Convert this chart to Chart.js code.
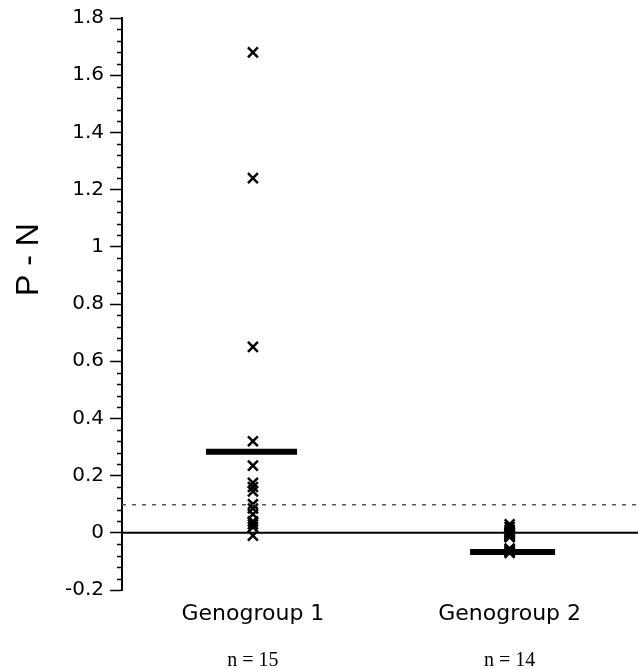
<!doctype html>
<html>
<head>
    <title>P - N by genogroup</title>
    <script src="https://cdn.jsdelivr.net/npm/chart.js@4.4.1/dist/chart.umd.min.js"></script>
    <style>
        body { margin: 0; background: #fff; }
        #wrap { width: 638px; height: 669px; }
    </style>
</head>
<body>
    <div id="wrap"><canvas id="myChart" width="638" height="669"></canvas></div>
    <script>
        // groups and their sample sizes
        var groupNames = ['Genogroup 1', 'Genogroup 2'];
        var groupSizes = ['n = 15', 'n = 14'];
        var yTitle = 'P - N';

        // P - N values
        var group1 = [1.68, 1.24, 0.65, 0.32, 0.235, 0.175, 0.16, 0.145, 0.10, 0.085, 0.065, 0.04, 0.03, 0.02, -0.01];
        var group2 = [0.03, 0.02, 0.01, 0.005, 0, -0.003, -0.006, -0.01, -0.012, -0.015, -0.055, -0.06, -0.065, -0.07];

        // horizontal bar per group: value, left end, right end (x units)
        var barValues = [0.283, -0.067];
        var barLeft = [0.817, 1.846];
        var barRight = [1.172, 2.177];

        var cutoff = 0.098;
        var baseline = 0;

        var xMin = 0.49, xMax = 2.5;

        function pts(vals, x) {
            return vals.map(function(v) { return {x: x, y: v}; });
        }

        var datasets = [];
        datasets.push({
            type: 'line', data: [{x: xMin, y: cutoff}, {x: xMax, y: cutoff}],
            borderColor: '#555', borderWidth: 1.5, borderDash: [4, 6], pointRadius: 0
        });
        datasets.push({
            type: 'line', data: [{x: xMin, y: baseline}, {x: xMax, y: baseline}],
            borderColor: '#000', borderWidth: 2, pointRadius: 0
        });
        [group1, group2].forEach(function(g, i) {
            datasets.push({
                type: 'scatter', data: pts(g, i + 1),
                pointStyle: 'crossRot', pointRadius: 7, borderColor: '#000', borderWidth: 2.5
            });
            datasets.push({
                type: 'line', data: [{x: barLeft[i], y: barValues[i]}, {x: barRight[i], y: barValues[i]}],
                borderColor: '#000', borderWidth: 6, pointRadius: 0
            });
        });

        var minorTicks = {
            id: 'minorTicks',
            afterDraw: function(chart) {
                var y = chart.scales.y;
                var ctx = chart.ctx;
                var x0 = chart.chartArea.left;
                ctx.save();
                ctx.strokeStyle = '#000';
                ctx.lineWidth = 1.5;
                for (var k = 0; k <= 50; k++) {
                    if (k % 5 === 0) continue;
                    var py = Math.round(y.getPixelForValue(-0.2 + k * 0.04)) + 0.5;
                    ctx.beginPath();
                    ctx.moveTo(x0 - 5, py);
                    ctx.lineTo(x0, py);
                    ctx.stroke();
                }
                ctx.restore();
            }
        };

        var ctx = document.getElementById('myChart').getContext('2d');
        new Chart(ctx, {
            data: {datasets: datasets},
            plugins: [minorTicks],
            options: {
                responsive: false,
                animation: false,
                events: [],
                layout: {autoPadding: false, padding: {top: 18, right: 0, left: 0, bottom: 0}},
                plugins: {legend: {display: false}, tooltip: {enabled: false}},
                scales: {
                    x: {
                        type: 'linear', min: xMin, max: xMax, position: 'bottom',
                        afterBuildTicks: function(s) { s.ticks = [{value: 1}, {value: 2}]; },
                        afterFit: function(s) { s.height = 45; },
                        grid: {display: false, drawTicks: false},
                        border: {display: false},
                        ticks: {
                            padding: 11, color: '#000', maxRotation: 0,
                            font: {family: 'DejaVu Sans', size: 22},
                            callback: function(v, i) { return groupNames[i]; }
                        }
                    },
                    xn: {
                        type: 'linear', min: xMin, max: xMax, position: 'bottom',
                        afterBuildTicks: function(s) { s.ticks = [{value: 1}, {value: 2}]; },
                        afterFit: function(s) { s.height = 34; },
                        grid: {display: false, drawTicks: false},
                        border: {display: false},
                        ticks: {
                            padding: 14, color: '#000', maxRotation: 0,
                            font: {family: 'Liberation Serif', size: 20},
                            callback: function(v, i) { return groupSizes[i]; }
                        }
                    },
                    y: {
                        type: 'linear', min: -0.2, max: 1.8,
                        afterFit: function(s) { s.width = 122; },
                        grid: {drawOnChartArea: false, drawTicks: true, tickLength: 12, tickWidth: 1.5, tickColor: '#000'},
                        border: {display: true, color: '#000', width: 2},
                        ticks: {
                            stepSize: 0.2, padding: 6, color: '#000',
                            font: {family: 'DejaVu Sans', size: 20},
                            callback: function(v) { return String(+v.toFixed(1)); }
                        },
                        title: {
                            display: true, color: '#000',
                            // leading blanks lift the title above the axis middle, as in the original
                            text: yTitle.padStart(yTitle.length + 10, ' '),
                            font: {family: 'Liberation Sans', size: 32},
                            padding: {top: 10, bottom: 0}
                        }
                    }
                }
            }
        });
    </script>
</body>
</html>
